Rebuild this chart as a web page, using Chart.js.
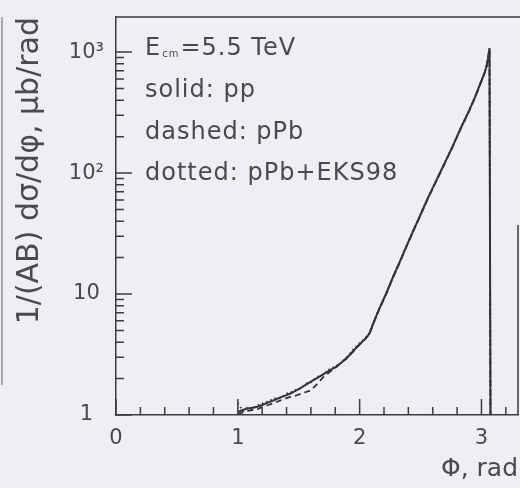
<!DOCTYPE html>
<html lang="en">
<head>
<meta charset="UTF-8">
<title>dsigma/dphi</title>
<script src="https://cdn.jsdelivr.net/npm/chart.js@4.4.1/dist/chart.umd.min.js"></script>
<style>
    html, body { margin:0; padding:0; background:#efeff3; }
    #board { width:520px; height:488px; }
</style>
</head>
<body>
<div id="board">
    <canvas id="chart1" width="520" height="488"></canvas>
</div>

<script>
    // azimuthal angle, rad
    const phi = [1.00, 1.04, 1.08, 1.12, 1.16, 1.20, 1.25, 1.30, 1.35, 1.40, 1.44, 1.48, 1.52, 1.56, 1.60, 1.65, 1.70, 1.75, 1.80, 1.85,
                 1.90, 1.95, 2.00, 2.04, 2.08, 2.12, 2.16, 2.22, 2.27, 2.33, 2.40, 2.45, 2.49, 2.56, 2.63, 2.70, 2.76, 2.83, 2.90, 2.95,
                 2.98, 3.02, 3.04, 3.055, 3.066, 3.074];
    // 1/(AB) dsigma/dphi, mub/rad
    const pp  = [1.06, 1.10, 1.13, 1.15, 1.17, 1.21, 1.27, 1.33, 1.40, 1.46, 1.52, 1.60, 1.68, 1.78, 1.89, 2.02, 2.17, 2.33, 2.48, 2.72,
                 3.00, 3.40, 3.85, 4.20, 4.70, 6.0, 7.5, 10.2, 13.5, 18.5, 27, 35, 43, 62, 87, 122, 163, 235, 330, 430,
                 515, 650, 750, 900, 1075, 1];
    const pPb = [1.02, 1.05, 1.08, 1.10, 1.12, 1.16, 1.21, 1.26, 1.32, 1.38, 1.42, 1.45, 1.50, 1.55, 1.60, 1.80, 2.05, 2.25, 2.45, 2.70,
                 2.98, 3.38, 3.82, 4.18, 4.65, 5.95, 7.45, 10.1, 13.4, 18.3, 26.8, 34.7, 42.6, 61.5, 86, 121, 162, 233, 328, 427,
                 512, 646, 746, 895, 1070, 1];
    const pPbEks = [1.25, 1.08, 1.16, 1.12, 1.20, 1.24, 1.30, 1.37, 1.38, 1.50, 1.55, 1.62, 1.66, 1.82, 1.86, 2.06, 2.15, 2.38, 2.52, 2.70,
                 3.05, 3.50, 3.95, 4.25, 4.75, 6.05, 7.55, 10.3, 13.6, 18.6, 27.2, 35.2, 43.3, 62.3, 87.5, 123, 164, 236, 332, 432,
                 518, 652, 752, 903, 1078, 1];

    const xTicks = [0, 1, 2, 3];
    const xMinor = [0.2, 0.4, 0.6, 0.8, 1.2, 1.4, 1.6, 1.8, 2.2, 2.4, 2.6, 2.8, 3.2];
    const yTicks = [1, 10, 100, 1000];
    const yTickText = ['1', '10', '10²', '10³'];
    const yMinor = [2, 3, 4, 5, 6, 7, 8, 9, 20, 30, 40, 50, 60, 70, 80, 90, 200, 300, 400, 500, 600, 700, 800, 900];
    const notes = ['solid: pp', 'dashed: pPb', 'dotted: pPb+EKS98'];

    const ink = '#2e3533';
    const txt = '#4a4a4a';
    const font = 'DejaVu Sans';

    const toXY = (vals) => phi.map((p, i) => ({x: p, y: vals[i]}));

    // background, inner ticks, frame and the text block in the corner
    const frame = {
        id: 'frame',
        beforeDraw(chart) {
            const ctx = chart.ctx;
            ctx.save();
            ctx.fillStyle = '#efeff3';
            ctx.fillRect(0, 0, chart.width, chart.height);
            ctx.restore();
        },
        afterDraw(chart) {
            const {ctx, chartArea: a, scales: {x, y}} = chart;
            ctx.save();
            ctx.strokeStyle = '#3c3c3c';
            ctx.lineWidth = 1.5;
            ctx.beginPath();
            xTicks.forEach(v => { const px = x.getPixelForValue(v); ctx.moveTo(px, a.bottom); ctx.lineTo(px, a.bottom - 16); });
            xMinor.forEach(v => { const px = x.getPixelForValue(v); ctx.moveTo(px, a.bottom); ctx.lineTo(px, a.bottom - 8); });
            yTicks.forEach(v => { const py = y.getPixelForValue(v); ctx.moveTo(a.left, py); ctx.lineTo(a.left + 16, py); });
            yMinor.forEach(v => { const py = y.getPixelForValue(v); ctx.moveTo(a.left, py); ctx.lineTo(a.left + 8, py); });
            ctx.stroke();

            // top and right edges
            ctx.beginPath();
            ctx.moveTo(a.left, a.top); ctx.lineTo(chart.width, a.top);
            ctx.moveTo(a.right, 225); ctx.lineTo(a.right, a.bottom);
            ctx.stroke();

            // edge of the neighbouring panel
            ctx.strokeStyle = '#777';
            ctx.lineWidth = 1.2;
            ctx.beginPath();
            ctx.moveTo(2, a.top); ctx.lineTo(2, 385);
            ctx.stroke();

            ctx.fillStyle = txt;
            ctx.textBaseline = 'alphabetic';
            ctx.textAlign = 'left';
            ctx.letterSpacing = '1px';
            const tx = a.left + 29;
            ctx.font = '24px "' + font + '"';
            ctx.fillText('E', tx, 55);
            let w = ctx.measureText('E').width;
            ctx.font = '10px "' + font + '"';
            ctx.fillText('cm', tx + w + 1, 57);
            w += ctx.measureText('cm').width + 2;
            ctx.font = '24px "' + font + '"';
            ctx.fillText('=5.5 TeV', tx + w, 55);
            notes.forEach((s, i) => ctx.fillText(s, tx, 97 + i * 41.5));
            ctx.restore();
        }
    };

    const ctx = document.getElementById('chart1').getContext('2d');
    new Chart(ctx, {
        type: 'line',
        data: {
            datasets: [
                {label: 'pPb+EKS98', data: toXY(pPbEks), borderColor: ink, borderWidth: 1.8, borderDash: [1.5, 3]},
                {label: 'pPb', data: toXY(pPb), borderColor: ink, borderWidth: 1.8, borderDash: [6, 4]},
                {label: 'pp', data: toXY(pp), borderColor: ink, borderWidth: 2}
            ]
        },
        options: {
            responsive: false,
            animation: false,
            parsing: false,
            elements: { point: { radius: 0 }, line: { tension: 0 } },
            layout: { padding: { top: 17, right: 2, left: 0, bottom: 0 } },
            plugins: { legend: { display: false }, tooltip: { enabled: false } },
            scales: {
                x: {
                    type: 'linear',
                    min: 0,
                    max: 3.3,
                    afterBuildTicks: (s) => { s.ticks = xTicks.map(v => ({value: v})); },
                    afterFit: (s) => { s.height = 73; s.paddingLeft = 0; s.paddingRight = 0; },
                    grid: { display: false, drawTicks: false },
                    border: { color: '#3c3c3c', width: 1.5 },
                    ticks: { color: txt, font: { family: font, size: 21 }, padding: 11, maxRotation: 0, autoSkip: false },
                    title: { display: true, text: 'Φ, rad', align: 'end', color: txt,
                             font: { family: font, size: 25 }, padding: { top: 0, bottom: 4 } }
                },
                y: {
                    type: 'logarithmic',
                    min: 1,
                    max: 1950,
                    afterBuildTicks: (s) => { s.ticks = yTicks.map(v => ({value: v})); },
                    afterFit: (s) => { s.width = 116; s.paddingTop = 0; s.paddingBottom = 0; },
                    grid: { display: false, drawTicks: false },
                    border: { color: '#3c3c3c', width: 1.5 },
                    ticks: {
                        color: txt, font: { family: font, size: 21 }, padding: 12, crossAlign: 'center', autoSkip: false,
                        callback: (v) => yTickText[yTicks.indexOf(v)]
                    },
                    title: { display: true, text: '1/(AB) dσ/dφ, μb/rad', align: 'end', color: txt,
                             font: { family: font, size: 30 }, padding: { top: 12, bottom: 0 } }
                }
            }
        },
        plugins: [frame]
    });
</script>
</body>
</html>
